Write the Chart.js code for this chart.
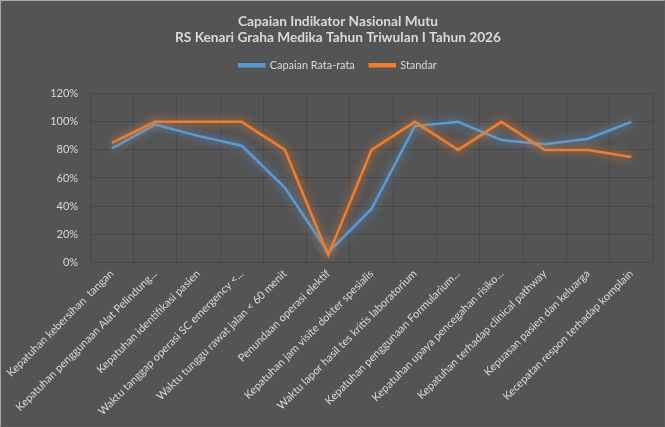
<!DOCTYPE html>
<html>
<head>
<meta charset="utf-8">
<script src="https://cdn.jsdelivr.net/npm/chart.js@4/dist/chart.umd.min.js"></script>
<style>
html,body{margin:0;padding:0;background:#545454;}
#wrap{position:absolute;left:0;top:0;width:663px;height:425px;border:1px solid #a6a6a6;border-right-color:#595959;border-bottom-color:#595959;background:#545454;}
canvas{display:block;}
</style>
</head>
<body>
<div id="wrap"><canvas id="c" width="663" height="425"></canvas></div>
<script>
const categories = [
  "Kepatuhan kebersihan  tangan",
  "Kepatuhan penggunaan Alat Pelindung...",
  "Kepatuhan identifikasi pasien",
  "Waktu tanggap operasi SC emergency <...",
  "Waktu tunggu rawat jalan < 60 menit",
  "Penundaan operasi elektif",
  "Kepatuhan jam visite dokter spesialis",
  "Waktu lapor hasil tes kritis laboratorium",
  "Kepatuhan penggunaan Formularium...",
  "Kepatuhan upaya pencegahan risiko...",
  "Kepatuhan terhadap clinical pathway",
  "Kepuasan pasien dan keluarga",
  "Kecepatan respon terhadap komplain"
];
const capaian = [81, 98, 90, 83, 53, 7, 38, 97, 100, 87, 84, 88, 100];
const standar = [85, 100, 100, 100, 80, 5, 80, 100, 80, 100, 80, 80, 75];
const yTicks = [0, 20, 40, 60, 80, 100, 120];

const glow = {
  id: 'glow',
  beforeDatasetDraw(chart, args) {
    const ctx = chart.ctx;
    ctx.save();
    ctx.shadowColor = args.meta._dataset.borderColor;
    ctx.shadowBlur = 10;
  },
  afterDatasetDraw(chart) { chart.ctx.restore(); }
};

const legendGap = {
  id: 'legendGap',
  beforeLayout(chart) {
    const lg = chart.legend;
    if (lg && !lg._gapPatched) {
      const orig = lg.fit;
      lg.fit = function () { orig.call(this); this.height += 13; };
      lg._gapPatched = true;
    }
  }
};

Chart.defaults.font.family = "Lato, 'Open Sans', sans-serif";
Chart.defaults.color = '#d9d9d9';

new Chart(document.getElementById('c'), {
  type: 'line',
  data: {
    labels: categories,
    datasets: [
      { label: 'Capaian Rata-rata', data: capaian, borderColor: '#5B9BD5', backgroundColor: '#5B9BD5', borderWidth: 2.5, pointRadius: 0, tension: 0, order: 1 },
      { label: 'Standar', data: standar, borderColor: '#ED7D31', backgroundColor: '#ED7D31', borderWidth: 2.5, pointRadius: 0, tension: 0, order: 0 }
    ]
  },
  plugins: [glow, legendGap],
  options: {
    responsive: false,
    animation: false,
    layout: { padding: { left: 22, right: 11, top: 4, bottom: 3 } },
    plugins: {
      title: {
        display: true,
        text: ['Capaian Indikator Nasional Mutu', 'RS Kenari Graha Medika Tahun Triwulan I Tahun 2026'],
        color: '#d9d9d9',
        font: { size: 13.7, weight: 'bold' },
        padding: { top: 8, bottom: -1 },
        lineHeight: 1.23
      },
      legend: {
        position: 'top',
        labels: {
          color: '#d9d9d9',
          font: { size: 10.9 },
          boxWidth: 25,
          boxHeight: 2,
          padding: 15,
          sort: (a, b) => a.datasetIndex - b.datasetIndex
        }
      },
      tooltip: { enabled: false }
    },
    scales: {
      x: {
        offset: true,
        grid: { color: '#474747', offset: true, drawTicks: false },
        border: { color: '#474747' },
        ticks: { color: '#d9d9d9', font: { size: 11 }, minRotation: 45, maxRotation: 45, autoSkip: false, padding: 5 }
      },
      y: {
        min: 0, max: 120,
        afterBuildTicks: (s) => { s.ticks = yTicks.map(v => ({ value: v })); },
        grid: { color: '#474747', drawTicks: false },
        border: { display: false },
        ticks: { color: '#d9d9d9', font: { size: 11 }, padding: 12, callback: v => v + '%' }
      }
    }
  }
});
</script>
</body>
</html>
